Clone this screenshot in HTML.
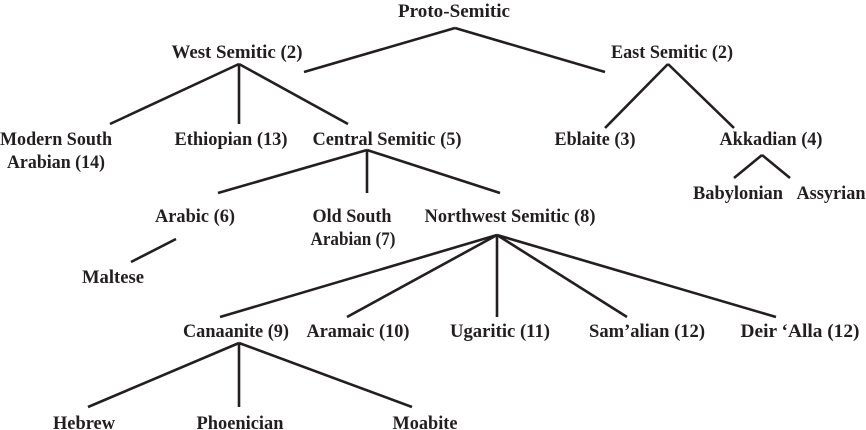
<!DOCTYPE html>
<html><head><meta charset="utf-8"><style>
html,body{margin:0;padding:0;background:#fff;}
svg{display:block}
text{font-family:"Liberation Serif",serif;font-size:19px;font-weight:bold;fill:#231f20;text-anchor:middle}
line{stroke:#231f20;stroke-width:2.6;stroke-linecap:butt}
</style></head><body>
<svg width="866" height="430" viewBox="0 0 866 430" xmlns="http://www.w3.org/2000/svg">
<line x1="455" y1="28" x2="304" y2="72"/><line x1="455" y1="28" x2="605" y2="72"/>
<line x1="239" y1="64" x2="110" y2="124"/><line x1="239" y1="64" x2="239" y2="124"/><line x1="239" y1="64" x2="348" y2="124"/>
<line x1="668" y1="64" x2="605" y2="128"/><line x1="668" y1="64" x2="734" y2="128"/>
<line x1="367" y1="150" x2="218" y2="193"/><line x1="367" y1="150" x2="367" y2="193"/><line x1="367" y1="150" x2="500" y2="193"/>
<line x1="762" y1="155" x2="734" y2="178"/><line x1="762" y1="155" x2="790" y2="178"/>
<line x1="176" y1="239" x2="131" y2="262"/>
<line x1="497" y1="235" x2="220" y2="317"/><line x1="497" y1="235" x2="347" y2="317"/><line x1="497" y1="235" x2="497" y2="317"/><line x1="497" y1="235" x2="627" y2="317"/><line x1="497" y1="235" x2="776" y2="317"/>
<line x1="239" y1="343" x2="88" y2="407"/><line x1="239" y1="343" x2="239" y2="407"/><line x1="239" y1="343" x2="412" y2="407"/>

<text x="454" y="17" textLength="112" lengthAdjust="spacingAndGlyphs">Proto-Semitic</text>
<text x="237" y="58" textLength="131" lengthAdjust="spacingAndGlyphs">West Semitic (2)</text>
<text x="672" y="58" textLength="122" lengthAdjust="spacingAndGlyphs">East Semitic (2)</text>
<text x="56" y="145" textLength="112" lengthAdjust="spacingAndGlyphs">Modern South</text>
<text x="56" y="168" textLength="98" lengthAdjust="spacingAndGlyphs">Arabian (14)</text>
<text x="231" y="145" textLength="113" lengthAdjust="spacingAndGlyphs">Ethiopian (13)</text>
<text x="387" y="145" textLength="149" lengthAdjust="spacingAndGlyphs">Central Semitic (5)</text>
<text x="595" y="145" textLength="81" lengthAdjust="spacingAndGlyphs">Eblaite (3)</text>
<text x="771" y="145" textLength="103" lengthAdjust="spacingAndGlyphs">Akkadian (4)</text>
<text x="738" y="199" textLength="90" lengthAdjust="spacingAndGlyphs">Babylonian</text>
<text x="831" y="199" textLength="69" lengthAdjust="spacingAndGlyphs">Assyrian</text>
<text x="195" y="222" textLength="80" lengthAdjust="spacingAndGlyphs">Arabic (6)</text>
<text x="352" y="222" textLength="79" lengthAdjust="spacingAndGlyphs">Old South</text>
<text x="353" y="245" textLength="85" lengthAdjust="spacingAndGlyphs">Arabian (7)</text>
<text x="510" y="222" textLength="171" lengthAdjust="spacingAndGlyphs">Northwest Semitic (8)</text>
<text x="113" y="283" textLength="62" lengthAdjust="spacingAndGlyphs">Maltese</text>
<text x="236" y="337" textLength="106" lengthAdjust="spacingAndGlyphs">Canaanite (9)</text>
<text x="358" y="337" textLength="103" lengthAdjust="spacingAndGlyphs">Aramaic (10)</text>
<text x="500" y="337" textLength="100" lengthAdjust="spacingAndGlyphs">Ugaritic (11)</text>
<text x="647" y="337" textLength="116" lengthAdjust="spacingAndGlyphs">Sam’alian (12)</text>
<text x="800" y="337" textLength="119" lengthAdjust="spacingAndGlyphs">Deir ‘Alla (12)</text>
<text x="84" y="429" textLength="62" lengthAdjust="spacingAndGlyphs">Hebrew</text>
<text x="240" y="429" textLength="87" lengthAdjust="spacingAndGlyphs">Phoenician</text>
<text x="425" y="429" textLength="65" lengthAdjust="spacingAndGlyphs">Moabite</text>
</svg>
</body></html>
